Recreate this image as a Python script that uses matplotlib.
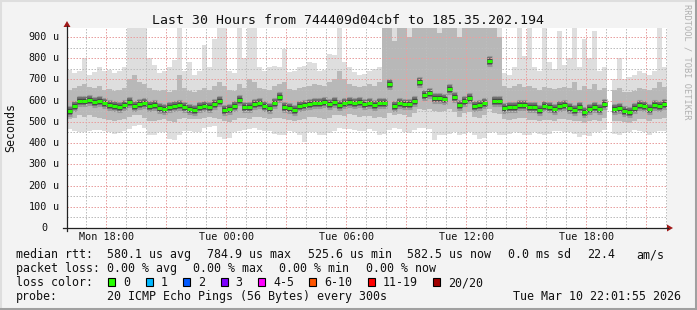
import numpy as np
import matplotlib
matplotlib.use("Agg")
import matplotlib.pyplot as plt
from matplotlib.patches import Rectangle, Polygon
from matplotlib.lines import Line2D

# smokeping RTT summary in 15 minute bins over 30 hours (microseconds)
nan = np.nan
med_us = [553, 575, 600, 598, 605, 595, 600, 588, 580, 575, 572, 578, 592, 575, 585, 590, 575, 578, 565, 560,
          568, 575, 578, 572, 560, 558, 568, 575, 572, 585, 600, 555, 560, 575, 603, 570, 568, 585, 590, 575,
          565, 590, 615, 570, 565, 555, 575, 578, 585, 590, 588, 595, 585, 592, 580, 590, 595, 590, 592, 585,
          588, 578, 590, 590, 680, 575, 590, 585, 585, 598, 688, 625, 635, 610, 612, 608, 655, 615, 580, 600,
          612, 575, 580, 590, 785, 600, 600, 565, 570, 572, 578, 580, 572, 568, 558, 575, 572, 560, 575, 578,
          565, 555, 568, 545, 562, 570, 560, 582, nan, 560, 565, 550, 548, 565, 580, 575, 562, 580, 575, 582]
hi_us = [745, 730, 740, 800, 720, 735, 760, 740, 745, 730, 740, 760, 950, 950, 950, 950, 800, 770, 730, 740,
         760, 790, 950, 740, 780, 720, 740, 860, 760, 890, 950, 950, 740, 730, 950, 800, 950, 950, 760, 740,
         760, 765, 760, 845, 735, 740, 760, 765, 780, 775, 740, 745, 820, 815, 950, 780, 760, 735, 720, 725,
         740, 750, 760, 950, 950, 950, 950, 950, 950, 950, 950, 950, 950, 950, 950, 950, 950, 950, 950, 950,
         950, 950, 950, 950, 950, 950, 950, 730, 720, 760, 950, 810, 950, 760, 740, 950, 780, 750, 930, 770,
         800, 950, 760, 890, 800, 930, 740, 760, nan, 700, 800, 700, 710, 720, 740, 730, 720, 740, 950, 760]
lo_us = [468, 455, 450, 452, 455, 460, 462, 458, 450, 445, 448, 455, 465, 480, 483, 470, 440, 440, 450, 452,
         420, 415, 440, 455, 458, 452, 450, 470, 478, 480, 430, 418, 425, 450, 455, 460, 468, 472, 462, 455,
         455, 445, 438, 440, 455, 452, 440, 405, 450, 452, 440, 438, 448, 455, 470, 465, 468, 460, 455, 458,
         465, 458, 440, 445, 460, 470, 468, 450, 448, 460, 472, 470, 465, 415, 440, 438, 445, 450, 440, 445,
         450, 440, 420, 422, 448, 452, 440, 438, 445, 450, 448, 440, 438, 450, 442, 436, 445, 455, 458, 452,
         450, 445, 428, 440, 432, 450, 452, 462, nan, 445, 440, 448, 450, 460, 458, 452, 440, 450, 455, 455]
p20_us = [515, 520, 530, 525, 530, 525, 520, 515, 510, 505, 510, 515, 525, 530, 530, 520, 505, 505, 510, 512,
          505, 500, 515, 520, 515, 512, 515, 520, 525, 520, 515, 505, 500, 510, 520, 520, 515, 525, 525, 520,
          515, 520, 520, 515, 510, 505, 510, 515, 525, 525, 520, 515, 520, 530, 530, 528, 535, 530, 525, 528,
          528, 520, 525, 520, 540, 530, 535, 530, 525, 540, 560, 555, 560, 550, 545, 550, 560, 545, 525, 540,
          545, 525, 520, 530, 560, 540, 535, 515, 510, 515, 520, 520, 510, 508, 505, 510, 510, 505, 512, 515,
          510, 505, 505, 495, 505, 510, 505, 520, nan, 505, 505, 500, 495, 505, 515, 512, 505, 515, 515, 520]
p80_us = [650, 660, 670, 680, 665, 660, 670, 650, 655, 645, 650, 660, 700, 720, 690, 680, 660, 650, 645, 650,
          640, 650, 720, 660, 645, 640, 650, 660, 650, 670, 690, 670, 650, 645, 680, 660, 700, 690, 660, 655,
          650, 670, 680, 690, 655, 650, 660, 665, 670, 680, 675, 670, 690, 700, 740, 700, 680, 670, 665, 670,
          680, 670, 690, 950, 950, 880, 950, 950, 900, 950, 950, 950, 950, 950, 920, 950, 950, 950, 900, 950,
          950, 950, 950, 950, 950, 950, 900, 670, 660, 670, 680, 665, 670, 660, 650, 665, 660, 655, 660, 665,
          660, 690, 650, 670, 655, 680, 650, 660, nan, 650, 660, 640, 640, 645, 660, 655, 650, 660, 690, 665]

x_labels = ["Mon 18:00", "Tue 00:00", "Tue 06:00", "Tue 12:00", "Tue 18:00"]
y_values = [0, 100, 200, 300, 400, 500, 600, 700, 800, 900]

loss_labels = ["0", "1", "2", "3", "4-5", "6-10", "11-19", "20/20"]
loss_colors = ["#26ff00", "#00b8ff", "#0059ff", "#7e00ff", "#ff00ff", "#ff5500", "#ff0000", "#a00000"]

W, H = 697, 310
MONO = "DejaVu Sans Mono"


def fx(x):
    return x / W


def fy(y):
    return 1 - y / H


fig = plt.figure(figsize=(W / 100, H / 100), dpi=100, facecolor="#f3f3f3")
ax = fig.add_axes([fx(67), fy(228), 600 / W, 200 / H])
ax.set_facecolor("white")

n = len(med_us)
bin_h = 0.25
left = np.arange(n) * bin_h
med = np.array(med_us, float)
lo = np.array(lo_us, float)
hi = np.array(hi_us, float)
p20 = np.array(p20_us, float)
p80 = np.array(p80_us, float)

# smoke
ax.bar(left, hi - lo, bottom=lo, width=bin_h, align="edge", color="#dedede", linewidth=0,
       antialiased=False, zorder=1)
ax.bar(left, p80 - p20, bottom=p20, width=bin_h, align="edge", color="#b8b8b8", linewidth=0,
       antialiased=False, zorder=1.5)
ax.hlines(med, left, left + bin_h, color="#989898", lw=8, zorder=1.7)
ax.hlines(med, left, left + bin_h, color="#6a6a6a", lw=5.5, zorder=1.8)
ax.hlines(med, left, left + bin_h, color="#444444", lw=3.5, zorder=1.9)

# dotted grid drawn over the smoke, rrdtool style
first_hour = 58 / 60 + 5 / 3600  # start 16:01:55 -> first full hour 17:00
for k in range(30):
    xh = first_hour + k
    major = (17 + k) % 3 == 0
    ax.axvline(xh, color="#e8a0a0" if major else "#bdbdbd", lw=0.72,
               dashes=(1.5, 1.5), zorder=3)
for v in range(50, 950, 50):
    major = v % 100 == 0
    ax.axhline(v, color="#e8a0a0" if major else "#bdbdbd", lw=0.72,
               dashes=(1.5, 1.5), zorder=3)

# median colored by loss
ax.hlines(med, left, left + bin_h, color=loss_colors[0], lw=2.2, zorder=4)

ax.set_xlim(0, 30)
ax.set_ylim(0, 942)
for s in ax.spines.values():
    s.set_visible(False)
ax.set_xticks([])
ax.set_yticks([])

# tick labels
for i, lab in enumerate(x_labels):
    xh = first_hour + 1 + 6 * i
    ax.text(xh, -0.06, lab, transform=ax.get_xaxis_transform(), ha="center", va="baseline",
            family=MONO, fontsize=7.3, color="#111111")
for v in y_values:
    ax.text(-20 / 600, v, str(v), transform=ax.get_yaxis_transform(), ha="right", va="center",
            family=MONO, fontsize=7.3, color="#111111")
    if v:
        ax.text(-14 / 600, v, "u", transform=ax.get_yaxis_transform(), ha="left", va="center",
                family=MONO, fontsize=7.3, color="#111111")

# axes lines and arrows
fig.add_artist(Line2D([fx(67), fx(67)], [fy(231), fy(26)], color="#222222", lw=0.9))
fig.add_artist(Line2D([fx(63), fx(668)], [fy(228), fy(228)], color="#222222", lw=0.9))
fig.add_artist(Polygon([[fx(63.5), fy(27)], [fx(70.5), fy(27)], [fx(67), fy(21)]],
                       closed=True, color="#a01818", lw=0))
fig.add_artist(Polygon([[fx(667), fy(224.5)], [fx(667), fy(231.5)], [fx(673), fy(228)]],
                       closed=True, color="#a01818", lw=0))

# title and side labels
fig.text(fx(348.5), fy(24), "Last 30 Hours from 744409d04cbf to 185.35.202.194",
         ha="center", va="baseline", family=MONO, fontsize=9.5, color="#111111")
fig.text(fx(11), fy(128), "Seconds", rotation=90, ha="center", va="center",
         family=MONO, fontsize=8.4, color="#111111")
fig.text(fx(687), fy(4), "RRDTOOL / TOBI OETIKER", rotation=270, ha="center", va="top",
         family=MONO, fontsize=6.2, color="#b0b0b0")

# legend
rows = [
    (258.3, [(16, "median rtt:"), (107.3, "580.1 us avg"), (207.3, "784.9 us max"),
             (308.0, "525.6 us min"), (407.3, "582.5 us now"), (507.7, "0.0 ms sd"),
             (586.7, "22.4"), (636, "am/s")]),
    (272.3, [(16, "packet loss:"), (107.3, "0.00 % avg"), (193.3, "0.00 % max"),
             (279.3, "0.00 % min"), (366, "0.00 % now")]),
    (286.3, [(16, "loss color:")]),
    (300.0, [(16, "probe:"), (107.3, "20 ICMP Echo Pings (56 Bytes) every 300s"),
             (513.3, "Tue Mar 10 22:01:55 2026")]),
]
for yb, items in rows:
    for xl, s in items:
        fig.text(fx(xl), fy(yb), s, ha="left", va="baseline", family=MONO,
                 fontsize=8.4, color="#111111")

bx = 108.3
for lab, col in zip(loss_labels, loss_colors):
    fig.add_artist(Rectangle((fx(bx), fy(285.5)), 7 / W, 7.5 / H, facecolor=col,
                             edgecolor="black", lw=0.8))
    fig.text(fx(bx + 15), fy(286.3), lab, ha="left", va="baseline", family=MONO,
             fontsize=8.4, color="#111111")
    bx = bx + 15 + 7.02 * len(lab) + 15.4

# 3d frame
fig.add_artist(Line2D([0, 1], [fy(0.5), fy(0.5)], color="#dedede", lw=1.5))
fig.add_artist(Line2D([fx(0.5), fx(0.5)], [0, 1], color="#dedede", lw=1.5))
fig.add_artist(Line2D([0, 1], [fy(308.8), fy(308.8)], color="#a0a0a0", lw=2.2))
fig.add_artist(Line2D([fx(695.8), fx(695.8)], [0, 1], color="#a0a0a0", lw=2.2))

fig.savefig("out.png", dpi=100, facecolor=fig.get_facecolor())
